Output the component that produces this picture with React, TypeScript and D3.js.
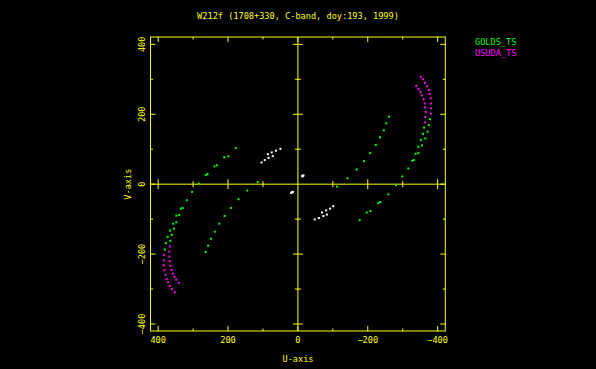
import React from 'react';
import * as d3 from 'd3';

// uv points, [u, v] in kilo-lambda
const goldsTs: [number, number][] = [
  // upper-left / lower-left outer track
  [178, 103], [199, 80], [211, 77], [232, 54], [239, 51], [259, 29], [264, 26], [284, 2],
  [303, -22], [318, -46], [330, -68], [335, -70], [340, -88], [348, -90], [348, -109],
  [357, -113], [355, -127], [366, -133], [361, -145], [373, -151], [365, -162], [378, -169], [381, -187],
  // lower-left inner track
  [115, 6], [145, -18], [170, -43], [192, -68], [210, -91], [225, -113], [238, -136],
  [249, -156], [257, -176], [264, -194],
  // upper-right inner track
  [-261, 193], [-253, 174], [-246, 154], [-235, 134], [-223, 112], [-207, 89], [-189, 66],
  [-168, 42], [-142, 17], [-112, -7],
  // upper-right / lower-right outer track
  [-378, 186], [-375, 169], [-371, 150], [-361, 162], [-365, 131], [-358, 144], [-352, 126],
  [-345, 107], [-355, 111], [-345, 89], [-337, 87], [-332, 69], [-327, 67], [-316, 45],
  [-299, 22], [-281, -3], [-259, -29], [-230, -54], [-236, -51], [-208, -77], [-197, -81], [-177, -103],
];

const usudaTs: [number, number][] = [
  [-352, 307], [-358, 300], [-364, 290], [-370, 280], [-375, 269], [-377, 258], [-380, 246],
  [-381, 231], [-381, 217], [-381, 202],
  [-339, 281], [-345, 272], [-351, 264], [-355, 254], [-360, 243], [-363, 231], [-364, 220],
  [-366, 207], [-365, 192], [-364, 177],
  [367, -178], [368, -193], [368, -207], [367, -220], [365, -233], [362, -245], [358, -256],
  [353, -265], [348, -273], [341, -282],
  [384, -203], [384, -218], [384, -232], [382, -246], [379, -259], [376, -271], [372, -281],
  [367, -291], [361, -300], [353, -309],
];

const otherPts: [number, number][] = [
  [50, 101], [63, 96], [75, 91], [86, 86], [72, 80], [84, 75], [95, 69], [104, 62],
  [-48, -101], [-60, -97], [-73, -91], [-69, -81], [-81, -75], [-83, -87], [-92, -70], [-101, -63],
  [-14, 24], [-16, 25], [-12, 23], [-13, 22], [14, -22], [16, -23], [18, -24], [19, -25],
];

const tickVals = [-400, -300, -200, -100, 0, 100, 200, 300, 400];
const labelVals = [-400, -200, 0, 200, 400];
const title = 'W212f (1708+330, C-band, doy:193, 1999)';
const legend = [
  { name: 'GOLDS_TS', color: '#00ff00' },
  { name: 'USUDA_TS', color: '#ff00ff' },
];

const W = 596;
const H = 369;
const yellow = '#ffff00';
const font = '"DejaVu Sans Mono", monospace';

export default function App() {
  const x = d3.scaleLinear().domain([422, -422]).range([150.5, 445.3]);
  const y = d3.scaleLinear().domain([-420, 421]).range([331, 37]);
  const [x0, x1] = x.range();
  const [y0, y1] = y.range();
  const major = (t: number) => t % 200 === 0;

  // points are tiny squares, like the plotting package's dot marker
  const dots = (pts: [number, number][], color: string) =>
    pts.map((p, i) => (
      <rect key={color + i} x={x(p[0]) - 1} y={y(p[1]) - 1} width={2} height={2} fill={color} />
    ));

  return (
    <svg width={W} height={H} style={{ position: 'absolute', left: 0, top: 0, background: '#000' }}>
      <rect width={W} height={H} fill="#000" />
      <text x={298} y={19} fill={yellow} fontFamily={font} fontSize={8.6} textAnchor="middle">
        {title}
      </text>

      <g stroke={yellow} strokeWidth={1} fill="none">
        <rect x={x0} y={y1} width={x1 - x0} height={y0 - y1} />
        <line x1={x(0)} x2={x(0)} y1={y1} y2={y0} />
        <line x1={x0} x2={x1} y1={y(0)} y2={y(0)} />
        {tickVals.map((t) => {
          const len = major(t) ? 5 : 2.5;
          const c = major(t) ? 5 : 3;
          return (
            <g key={t}>
              <line x1={x(t)} x2={x(t)} y1={y1} y2={y1 + len} />
              <line x1={x(t)} x2={x(t)} y1={y0} y2={y0 - len} />
              <line x1={x0} x2={x0 + len} y1={y(t)} y2={y(t)} />
              <line x1={x1} x2={x1 - len} y1={y(t)} y2={y(t)} />
              {t !== 0 && <line x1={x(t)} x2={x(t)} y1={y(0) - c} y2={y(0) + c} />}
              {t !== 0 && <line x1={x(0) - c} x2={x(0) + c} y1={y(t)} y2={y(t)} />}
            </g>
          );
        })}
      </g>

      <g fill={yellow} fontFamily={font} fontSize={8.6} textAnchor="middle">
        {labelVals.map((t) => (
          <text key={'x' + t} x={x(t)} y={343}>
            {t < 0 ? '\u2212' + -t : t}
          </text>
        ))}
        {labelVals.map((t) => (
          <text key={'y' + t} transform={`translate(145,${y(t)}) rotate(-90)`}>
            {t < 0 ? '\u2212' + -t : t}
          </text>
        ))}
        <text x={298} y={362}>U-axis</text>
        <text transform={`translate(131,${y(0)}) rotate(-90)`}>V-axis</text>
      </g>

      {dots(otherPts, '#ffffff')}
      {dots(goldsTs, legend[0].color)}
      {dots(usudaTs, legend[1].color)}

      {legend.map((l, i) => (
        <text key={l.name} x={475} y={45 + i * 11} fill={l.color} fontFamily={font} fontSize={8.6}>
          {l.name}
        </text>
      ))}
    </svg>
  );
}
